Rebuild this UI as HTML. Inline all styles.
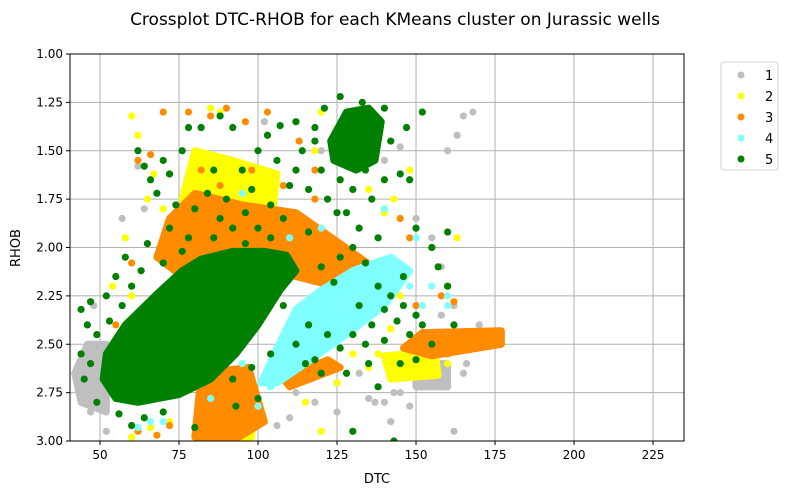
<!DOCTYPE html>
<html><head><meta charset="utf-8"><style>
body{margin:0;background:#fff;font-family:"Liberation Sans","DejaVu Sans",sans-serif}
svg text{font-family:"DejaVu Sans","Liberation Sans",sans-serif}
</style></head><body>
<svg id="chart" width="789" height="495" xmlns="http://www.w3.org/2000/svg">
<rect width="789" height="495" fill="#fff"/>
<text x="395" y="25" text-anchor="middle" font-size="17">Crossplot DTC-RHOB for each KMeans cluster on Jurassic wells</text>
<g id="grid"></g>
<g id="marks"></g>
<rect x="70" y="54" width="614" height="387" fill="none" stroke="#000" stroke-width="1"/>
<g id="axes"></g>
<text x="377" y="483" text-anchor="middle" font-size="13">DTC</text>
<text x="20" y="248" text-anchor="middle" font-size="13" transform="rotate(-90 20 248)">RHOB</text>
<g id="legend"></g>
</svg>
<script>
const xTicks=[50,75,100,125,150,175,200,225];
const yTicks=[1.00,1.25,1.50,1.75,2.00,2.25,2.50,2.75,3.00];
const clusterNames=["1","2","3","4","5"];
const clusterColors=["#bfbfbf","#ffff00","#ff8c00","#7fffff","#008000"];
// dense core regions [DTC,RHOB]
const core1=[[[42,2.65],[46,2.5],[52,2.5],[52,2.85],[44,2.8]],[[150,2.6],[160,2.6],[160,2.72],[150,2.72]]];
const core2=[[[80,1.5],[92,1.55],[106,1.62],[104,1.9],[85,1.92],[76,1.75]],[[84,2.8],[98,2.8],[98,2.98],[80,2.98]],[[140,2.56],[156,2.54],[157,2.66],[142,2.68]]];
const core3=[[[72,1.85],[80,1.72],[95,1.78],[112,1.82],[126,1.98],[138,2.12],[124,2.2],[100,2.1],[76,2.15],[68,2.05]],[[82,2.65],[97,2.62],[102,2.9],[94,2.98],[80,2.98]],[[152,2.44],[177,2.43],[177,2.5],[155,2.56],[146,2.52]],[[108,2.68],[122,2.58],[126,2.62],[110,2.72]]];
const core4=[[[101,2.7],[106,2.52],[112,2.32],[120,2.22],[130,2.12],[142,2.05],[148,2.12],[140,2.3],[128,2.45],[115,2.6],[106,2.7]]];
const core5=[[[52,2.55],[58,2.4],[68,2.24],[76,2.12],[82,2.06],[92,2.02],[102,2.02],[109,2.04],[112,2.12],[107,2.22],[100,2.4],[93,2.55],[85,2.68],[75,2.76],[62,2.8],[55,2.78],[51,2.68]],[[123,1.45],[128,1.3],[135,1.28],[139,1.35],[137,1.55],[131,1.6],[124,1.55]]];
// scattered points
const pts1=[[45,2.72],[47,2.85],[52,2.95],[58,2.55],[62,1.58],[64,1.8],[57,1.85],[98,1.6],[102,1.35],[120,1.5],[140,1.55],[145,1.48],[150,1.85],[155,1.95],[160,1.5],[163,1.42],[165,1.32],[168,1.3],[158,2.1],[162,2.3],[166,2.6],[170,2.4],[150,2.7],[145,2.75],[140,2.8],[132,2.65],[125,2.7],[118,2.8],[110,2.88],[106,2.92],[112,2.75],[125,2.85],[142,2.9],[162,2.95],[155,2.6],[148,2.82],[135,2.78],[92,2.95],[88,2.65],[48,2.3],[158,2.35],[165,2.65],[143,2.75],[137,2.8]];
const pts2=[[60,1.32],[62,1.42],[67,1.62],[65,1.75],[70,1.8],[58,1.95],[54,2.2],[60,2.25],[85,1.28],[88,1.3],[118,1.5],[135,1.7],[140,1.82],[143,1.75],[148,1.6],[145,2.25],[155,2.0],[160,2.2],[165,2.45],[142,2.42],[130,2.55],[125,2.7],[120,2.95],[115,2.8],[60,2.98],[66,2.93],[72,2.9],[108,2.65],[112,2.45],[163,1.95],[120,1.3],[75,2.3],[160,2.6],[150,2.62],[135,2.62],[138,2.55]];
const pts3=[[62,1.55],[66,1.52],[70,1.3],[78,1.3],[85,1.32],[90,1.28],[96,1.35],[103,1.3],[113,1.45],[118,1.6],[130,1.3],[135,1.45],[145,1.85],[148,1.95],[155,2.0],[158,2.25],[162,2.28],[150,2.3],[60,2.08],[63,2.35],[55,2.4],[62,2.95],[68,2.97],[72,2.92],[108,2.5],[112,2.68],[170,2.45],[175,2.48],[138,2.3],[125,2.3],[98,1.6],[108,1.68],[118,1.75],[88,1.68],[82,1.6],[132,2.05],[160,2.55]];
const pts4=[[62,2.93],[66,2.9],[70,2.9],[85,2.78],[100,2.82],[95,2.6],[120,1.9],[140,1.8],[150,1.95],[155,2.2],[152,2.3],[160,2.25],[160,2.3],[110,1.95],[95,1.72],[104,2.72],[148,2.2]];
const pts5=[[44,2.32],[47,2.28],[46,2.4],[44,2.55],[45,2.68],[52,2.25],[55,2.15],[58,2.05],[65,1.98],[78,1.38],[82,1.38],[88,1.32],[92,1.38],[95,1.6],[100,1.5],[103,1.42],[107,1.37],[112,1.35],[118,1.38],[147,1.38],[152,1.3],[145,1.62],[148,1.65],[150,1.9],[155,2.0],[157,2.1],[160,2.2],[160,1.92],[162,2.4],[155,2.5],[150,2.58],[145,2.6],[135,2.6],[128,2.65],[120,2.65],[115,2.6],[100,2.78],[93,2.82],[80,2.93],[60,2.92],[130,2.95],[138,2.72],[143,3.0],[125,1.82],[110,1.68],[88,1.85],[78,1.95],[72,1.9],
[62,1.5],[64,1.58],[66,1.65],[68,1.72],[70,1.55],[72,1.62],[76,1.5],[74,1.78],[80,1.8],[84,1.72],[86,1.6],[90,1.75],[92,1.9],[96,1.82],[98,1.7],[100,1.9],[104,1.78],[106,1.55],[108,1.85],[112,1.6],[114,1.5],[116,1.7],[118,1.45],[120,1.6],[122,1.75],[126,1.65],[128,1.82],[130,1.7],[132,1.9],[134,1.6],[136,1.75],[138,1.95],[140,1.65],[142,1.45],[140,1.28],[133,1.25],[126,1.22],[121,1.28],[116,1.92],[104,1.95],[96,1.98],[86,1.95],[76,2.02],[70,2.08],[63,2.12],[60,2.2],[57,2.3],
[120,2.1],[124,2.18],[126,2.05],[130,2.0],[134,2.08],[138,2.2],[142,2.25],[146,2.3],[150,2.35],[152,2.4],[148,2.45],[144,2.38],[140,2.32],[136,2.4],[132,2.3],[130,2.45],[134,2.5],[126,2.52],[122,2.45],[118,2.58],[112,2.5],[116,2.4],[140,2.48],[146,2.15],[108,2.3],[104,2.55],[98,2.62],[92,2.68],[70,2.85],[64,2.88],[56,2.86],[49,2.8],[47,2.6],[49,2.45],[53,2.38]];
const X0=40.5,X1=234.8,Y0=1.0,Y1=3.0,PL=70,PR=684,PT=54,PB=441;
const sx=v=>PL+(v-X0)/(X1-X0)*(PR-PL);
const sy=v=>PT+(v-Y0)/(Y1-Y0)*(PB-PT);
const NS="http://www.w3.org/2000/svg";
const mk=(t,a,p)=>{const e=document.createElementNS(NS,t);for(const k in a)e.setAttribute(k,a[k]);p.appendChild(e);return e;};
const grid=document.getElementById('grid'),axes=document.getElementById('axes'),marks=document.getElementById('marks'),legend=document.getElementById('legend');
xTicks.forEach(t=>{const x=sx(t);
const g=mk('line',{x1:x,x2:x,y1:PT,y2:PB,stroke:'#b0b0b0','stroke-width':1},grid);


mk('line',{x1:x,x2:x,y1:PB,y2:PB+4,stroke:'#000'},axes);
const l=mk('text',{x:x,y:PB+18,'text-anchor':'middle','font-size':12},axes);l.textContent=t;

});
yTicks.forEach(t=>{const y=sy(t);
const g=mk('line',{x1:PL,x2:PR,y1:y,y2:y,stroke:'#b0b0b0','stroke-width':1},grid);


mk('line',{x1:PL-4,x2:PL,y1:y,y2:y,stroke:'#000'},axes);
const l=mk('text',{x:PL-7,y:y+4,'text-anchor':'end','font-size':12},axes);l.textContent=t.toFixed(2);

});
const cores=[core1,core2,core3,core4,core5],pts=[pts1,pts2,pts3,pts4,pts5];
const clip=mk('clipPath',{id:'pc'},marks);mk('rect',{x:PL,y:PT,width:PR-PL,height:PB-PT},clip);
marks.setAttribute('clip-path','url(#pc)');
cores.forEach((cs,i)=>{const g=mk('g',{},marks);


cs.forEach(poly=>{const p=mk('polygon',{points:poly.map(q=>sx(q[0])+','+sy(q[1])).join(' '),fill:clusterColors[i],stroke:clusterColors[i],'stroke-width':7,'stroke-linejoin':'round'},g);

});
pts[i].forEach(q=>{const c=mk('circle',{cx:sx(q[0]),cy:sy(q[1]),r:3.6,fill:clusterColors[i]},g);

});});
const lb=mk('rect',{x:721,y:62,width:57,height:108,rx:3,fill:'#fff',stroke:'#d0d0d0'},legend);


clusterNames.forEach((n,i)=>{const y=75+i*21;
const c=mk('circle',{cx:741,cy:y,r:3.5,fill:clusterColors[i]},legend);


const t=mk('text',{x:765,y:y+5,'font-size':13},legend);t.textContent=n;

});
</script>
</body></html>
